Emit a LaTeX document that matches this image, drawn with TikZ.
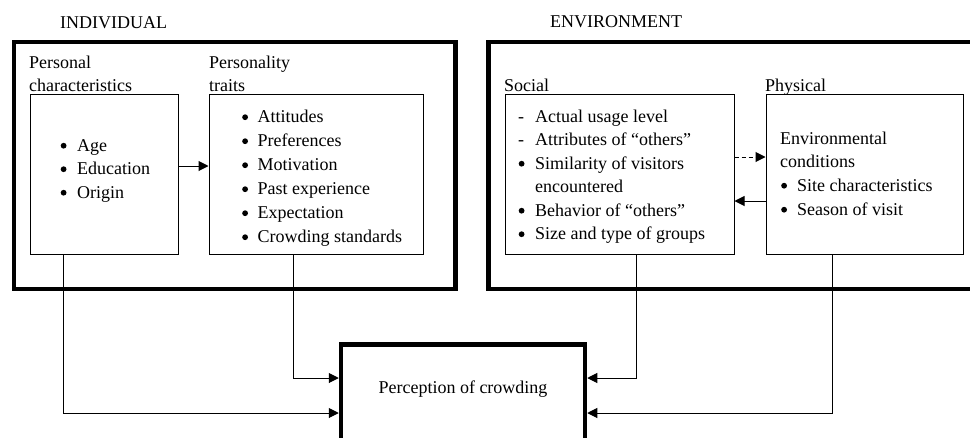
\documentclass[tikz,border=0pt]{standalone}
\usepackage{fontspec}
\setmainfont{Liberation Serif}
\usetikzlibrary{arrows.meta}
% marker (bullet or dash) set in a fixed-width slot before the item text
\newcommand{\lstitem}[3]{\makebox[#1][l]{#2}#3}
% round list bullet, centred about half an x-height above the baseline
\newcommand{\dotmark}{\tikz[baseline=0pt]\fill (3pt,5.3pt) circle[radius=2.9pt];}
\begin{document}
\begin{tikzpicture}[x=1pt,y=-1pt,
  every node/.style={font=\fontsize{18}{22}\selectfont},
  txt/.style={inner sep=0pt, anchor=base west},
  thinbox/.style={draw, line width=1pt, inner sep=0pt, minimum height=160pt},
  thickbox/.style={draw, line width=4.5pt, inner sep=0pt},
  link/.style={line width=1pt},
  arr/.style={link, -{Triangle[length=10pt,width=10pt]}},
]
\fill[white] (0,0) rectangle (970,437);
\useasboundingbox (0,0) rectangle (970,437);
\clip (0,0) rectangle (970,437);

% group frames
\node[thickbox, minimum width=441.5pt, minimum height=247pt] (ind) at (234.75,165.5) {};
\node[thickbox, minimum width=520pt, minimum height=247pt] (env) at (748.5,165.5) {};

% factor boxes
\node[thinbox, minimum width=148pt] (pc) at (104,174) {};
\node[thinbox, minimum width=214pt] (pt) at (316,174) {};
\node[thinbox, minimum width=229pt] (so) at (619.5,174) {};
\node[thinbox, minimum width=197pt] (ph) at (864.5,174) {};

% outcome box (runs past the lower edge)
\node[thickbox, minimum width=244pt, minimum height=150pt, anchor=north] (perc) at (463,342) {};
\node[anchor=base, inner sep=0pt] (ptxt) at (463,393.5) {Perception of crowding};

% headings
\node[txt] (tind) at (60,28) {INDIVIDUAL};
\node[txt] (tenv) at (550,27) {ENVIRONMENT};
\node[txt] (lpc1) at (29,68) {Personal};
\node[txt] (lpc2) at (29,91) {characteristics};
\node[txt] (lpt1) at (209,68) {Personality};
\node[txt] (lpt2) at (209,91) {traits};
\node[txt] (lso) at (504,91) {Social};
\node[txt] (lph) at (765,91) {Physical};

% personal characteristics
\foreach \t [count=\i] in {Age,Education,Origin}
  \node[txt] (pcl\i) at (60.5,{151+23.5*(\i-1)}) {\lstitem{16.5pt}{\dotmark}{\t}};

% personality traits
\foreach \t [count=\i] in {Attitudes,Preferences,Motivation,Past experience,Expectation,Crowding standards}
  \node[txt] (ptl\i) at (242,{122.5+24*(\i-1)}) {\lstitem{15.5pt}{\dotmark}{\t}};

% social factors
\node[txt] (sol1) at (518,122)   {\lstitem{17pt}{-}{Actual usage level}};
\node[txt] (sol2) at (518,145.5) {\lstitem{17pt}{-}{Attributes of “others”}};
\node[txt] (sol3) at (518.5,169)   {\lstitem{16.5pt}{\dotmark}{Similarity of visitors}};
\node[txt] (sol4) at (518,192.5) {\lstitem{17pt}{}{encountered}};
\node[txt] (sol5) at (518.5,216)   {\lstitem{16.5pt}{\dotmark}{Behavior of “others”}};
\node[txt] (sol6) at (518.5,239.5) {\lstitem{16.5pt}{\dotmark}{Size and type of groups}};

% physical factors
\node[txt] (phl1) at (780,144)   {Environmental};
\node[txt] (phl2) at (780,167.5) {conditions};
\node[txt] (phl3) at (781,191)   {\lstitem{16pt}{\dotmark}{Site characteristics}};
\node[txt] (phl4) at (781,215)   {\lstitem{16pt}{\dotmark}{Season of visit}};

% connectors
\coordinate (yhi) at (0,378);
\coordinate (ylo) at (0,413);
\draw[arr] ([yshift=8pt]pc.east) -- ([yshift=8pt]pc.east -| pt.west);
\draw[arr, dash pattern=on 4pt off 3pt] ([yshift=17pt]so.east) -- ([yshift=17pt]so.east -| ph.west);
\draw[arr] ([yshift=-27pt]ph.west) -- ([yshift=-27pt]ph.west -| so.east);
\draw[arr] ([xshift=-41pt]pc.south) |- (perc.west |- ylo);
\draw[arr] ([xshift=-23pt]pt.south) |- (perc.west |- yhi);
\draw[arr] ([xshift=16.5pt]so.south) |- (perc.east |- yhi);
\draw[arr] ([xshift=-32.5pt]ph.south) |- (perc.east |- ylo);
\end{tikzpicture}
\end{document}
